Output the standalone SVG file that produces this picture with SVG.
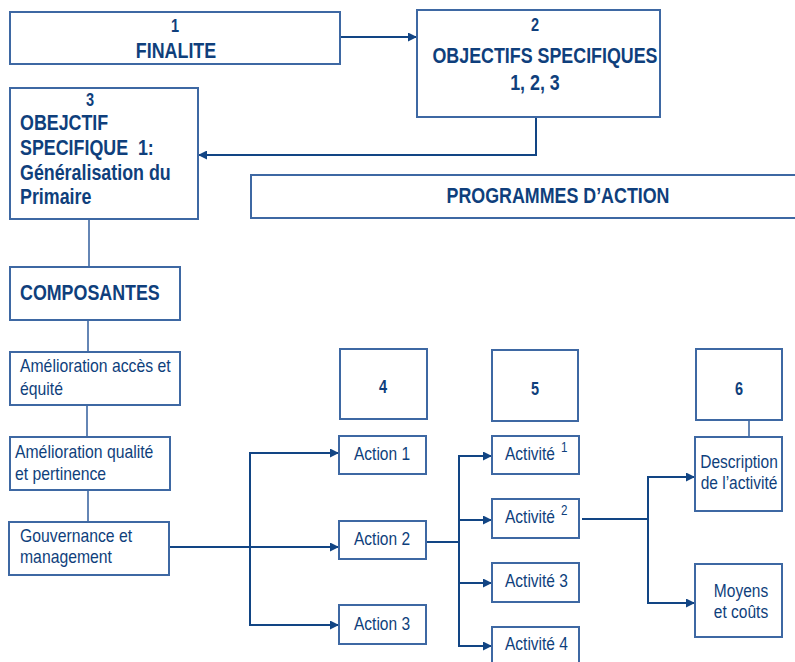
<svg xmlns="http://www.w3.org/2000/svg" width="795" height="662" viewBox="0 0 795 662">
  <defs>
    <marker id="arrow" viewBox="0 0 10 10" refX="10" refY="5" markerWidth="9" markerHeight="9" markerUnits="userSpaceOnUse" orient="auto">
      <path d="M0,0 L10,5 L0,10 Z" fill="#124584"/>
    </marker>
    <style>
      .box { fill: #ffffff; stroke: #3e68a3; stroke-width: 2; }
      .link { fill: none; stroke: #124584; stroke-width: 2; }
      .plain { fill: none; stroke: #3e68a3; stroke-width: 1.6; }
      text { font-family: "Liberation Sans", Arial, sans-serif; fill: #0f3f7c; }
      .b { font-weight: bold; font-size: 21.5px; }
      .n { font-weight: bold; font-size: 17.5px; }
      .r { font-size: 19px; }
      .s { font-size: 18.7px; }
      .sup { font-size: 14px; }
      .c { text-anchor: middle; }
    </style>
  </defs>
  <rect width="795" height="662" fill="#ffffff"/>

  <!-- connectors -->
  <g id="connectors">
    <path class="link" d="M340,37 H417" marker-end="url(#arrow)"/>
    <path class="link" d="M536,117 V155 H198" marker-end="url(#arrow)"/>
    <path class="plain" d="M89,219 V267"/>
    <path class="plain" d="M88,320 V352"/>
    <path class="plain" d="M87,405 V437"/>
    <path class="plain" d="M88,490 V522"/>
    <path class="link" d="M170,547 H339" marker-end="url(#arrow)"/>
    <path class="link" d="M250,547 V453 H339" marker-end="url(#arrow)"/>
    <path class="link" d="M250,547 V625 H339" marker-end="url(#arrow)"/>
    <path class="link" d="M426,542 H459"/>
    <path class="link" d="M459,542 V456 H492" marker-end="url(#arrow)"/>
    <path class="link" d="M459,520 H492" marker-end="url(#arrow)"/>
    <path class="link" d="M459,542 V583 H492" marker-end="url(#arrow)"/>
    <path class="link" d="M459,583 V646 H492" marker-end="url(#arrow)"/>
    <path class="link" d="M582,519 H648"/>
    <path class="link" d="M648,519 V477 H695" marker-end="url(#arrow)"/>
    <path class="link" d="M648,519 V603 H695" marker-end="url(#arrow)"/>
    <path class="plain" d="M749,420 V437"/>
  </g>

  <!-- labels use a narrow horizontal scale: translate(x y) scale(.83 1) -->
  <g id="finalite">
    <rect class="box" x="10" y="12" width="330" height="52"/>
    <text class="n c" transform="translate(175 32) scale(.83 1)">1</text>
    <text class="b c" transform="translate(176 58) scale(.83 1)">FINALITE</text>
  </g>

  <g id="objectifs">
    <rect class="box" x="417" y="10" width="243" height="107"/>
    <text class="n c" transform="translate(535 31) scale(.83 1)">2</text>
    <text class="b c" transform="translate(545 63) scale(.83 1)">OBJECTIFS SPECIFIQUES</text>
    <text class="b c" transform="translate(535 90) scale(.83 1)">1, 2, 3</text>
  </g>

  <g id="objectif1">
    <rect class="box" x="10" y="88" width="188" height="131"/>
    <text class="n c" transform="translate(90 106) scale(.83 1)">3</text>
    <text class="b" transform="translate(20 130) scale(.83 1)">OBEJCTIF</text>
    <text class="b" transform="translate(20 155) scale(.83 1)" xml:space="preserve">SPECIFIQUE  1:</text>
    <text class="b" transform="translate(20 180) scale(.83 1)">Généralisation du</text>
    <text class="b" transform="translate(20 204) scale(.83 1)">Primaire</text>
  </g>

  <g id="programmes">
    <path class="box" d="M797,175 H251 V218 H797"/>
    <text class="b c" transform="translate(558 203) scale(.83 1)">PROGRAMMES D’ACTION</text>
  </g>

  <g id="composantes">
    <rect class="box" x="10" y="267" width="170" height="53"/>
    <text class="b" transform="translate(20 300) scale(.83 1)">COMPOSANTES</text>
  </g>

  <g id="acces">
    <rect class="box" x="10" y="352" width="170" height="53"/>
    <text class="r" transform="translate(20 372) scale(.83 1)">Amélioration accès et</text>
    <text class="r" transform="translate(20 395) scale(.83 1)">équité</text>
  </g>

  <g id="qualite">
    <rect class="box" x="10" y="437" width="160" height="53"/>
    <text class="r" transform="translate(15 458) scale(.83 1)">Amélioration qualité</text>
    <text class="r" transform="translate(15 480) scale(.83 1)">et pertinence</text>
  </g>

  <g id="gouvernance">
    <rect class="box" x="9" y="522" width="160" height="53"/>
    <text class="r" transform="translate(20 542) scale(.83 1)">Gouvernance et</text>
    <text class="r" transform="translate(20 563) scale(.83 1)">management</text>
  </g>

  <g id="col4">
    <rect class="box" x="340" y="349" width="87" height="70"/>
    <text class="n c" transform="translate(383 393) scale(.83 1)">4</text>
  </g>

  <g id="action1">
    <rect class="box" x="339" y="436" width="87" height="38"/>
    <text class="s c" transform="translate(382 460) scale(.83 1)">Action 1</text>
  </g>
  <g id="action2">
    <rect class="box" x="339" y="521" width="87" height="38"/>
    <text class="s c" transform="translate(382 545) scale(.83 1)">Action 2</text>
  </g>
  <g id="action3">
    <rect class="box" x="339" y="605" width="87" height="39"/>
    <text class="s c" transform="translate(382 630) scale(.83 1)">Action 3</text>
  </g>

  <g id="col5">
    <rect class="box" x="492" y="350" width="86" height="71"/>
    <text class="n c" transform="translate(535 395) scale(.83 1)">5</text>
  </g>

  <g id="activite1">
    <rect class="box" x="492" y="436" width="87" height="38"/>
    <text class="s" transform="translate(505 460) scale(.83 1)">Activité</text>
    <text class="sup" transform="translate(561 452) scale(.83 1)">1</text>
  </g>
  <g id="activite2">
    <rect class="box" x="492" y="499" width="87" height="39"/>
    <text class="s" transform="translate(505 523) scale(.83 1)">Activité</text>
    <text class="sup" transform="translate(561 515) scale(.83 1)">2</text>
  </g>
  <g id="activite3">
    <rect class="box" x="492" y="563" width="87" height="39"/>
    <text class="s" transform="translate(505 587) scale(.83 1)">Activité 3</text>
  </g>
  <g id="activite4">
    <rect class="box" x="492" y="627" width="87" height="45"/>
    <text class="s" transform="translate(505 650) scale(.83 1)">Activité 4</text>
  </g>

  <g id="col6">
    <rect class="box" x="696" y="349" width="86" height="71"/>
    <text class="n c" transform="translate(739 395) scale(.83 1)">6</text>
  </g>

  <g id="description">
    <rect class="box" x="695" y="437" width="87" height="74"/>
    <text class="s c" transform="translate(739 468) scale(.83 1)">Description</text>
    <text class="s c" transform="translate(739 489) scale(.83 1)">de l’activité</text>
  </g>

  <g id="moyens">
    <rect class="box" x="695" y="564" width="87" height="73"/>
    <text class="s c" transform="translate(741 597) scale(.83 1)">Moyens</text>
    <text class="s c" transform="translate(741 618) scale(.83 1)">et coûts</text>
  </g>
</svg>
